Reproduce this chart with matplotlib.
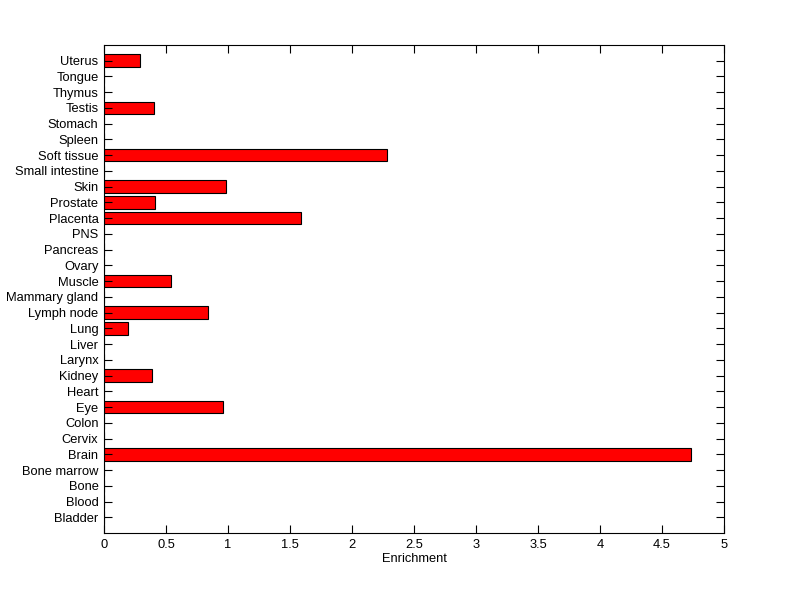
import matplotlib
matplotlib.use('Agg')
import matplotlib.pyplot as plt
import numpy as np

plt.rcParams['font.family'] = ['Liberation Sans', 'DejaVu Sans']

tissues = ['Bladder', 'Blood', 'Bone', 'Bone marrow', 'Brain', 'Cervix', 'Colon',
           'Eye', 'Heart', 'Kidney', 'Larynx', 'Liver', 'Lung', 'Lymph node',
           'Mammary gland', 'Muscle', 'Ovary', 'Pancreas', 'PNS', 'Placenta',
           'Prostate', 'Skin', 'Small intestine', 'Soft tissue', 'Spleen',
           'Stomach', 'Testis', 'Thymus', 'Tongue', 'Uterus']
enrichment = [0, 0, 0, 0, 4.73, 0, 0,
              0.96, 0, 0.39, 0, 0, 0.19, 0.84,
              0, 0.54, 0, 0, 0, 1.59,
              0.41, 0.98, 0, 2.28, 0,
              0, 0.40, 0, 0, 0.29]

fig = plt.figure(figsize=(8, 5.99), dpi=100)
ax = fig.add_axes([0.13, 0.11, 0.775, 0.815])

pos = np.arange(1, len(tissues) + 1)
ax.barh(pos, enrichment, height=0.8, color='#ff0000', edgecolor='black', linewidth=0.8)

ax.set_ylim(0, len(tissues) + 1)
ax.set_xlim(0, 5)
ax.set_yticks(pos)
ax.set_yticklabels(tissues, fontsize=9.3)
ax.set_xticks(np.arange(0, 5.01, 0.5))
ax.set_xticklabels(['0', '0.5', '1', '1.5', '2', '2.5', '3', '3.5', '4', '4.5', '5'], fontsize=9.3)
ax.set_xlabel('Enrichment', fontsize=9.3, labelpad=2)
ax.tick_params(direction='in', top=True, right=True, length=6, width=0.8, pad=4)
for s in ax.spines.values():
    s.set_linewidth(0.8)

fig.savefig('out.png', dpi=100)
